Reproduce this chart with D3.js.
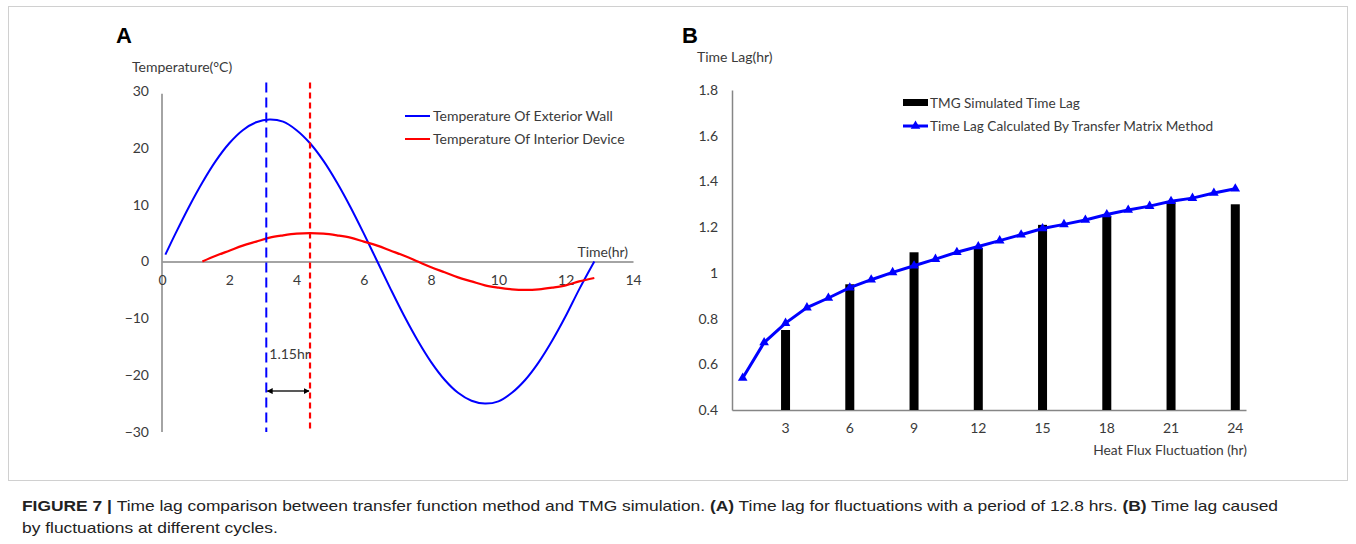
<!DOCTYPE html>
<html>
<head>
<meta charset="utf-8">
<script src="https://cdn.jsdelivr.net/npm/d3@7"></script>
<style>
  body { margin: 0; background: #fff; }
  svg { display: block; }
  .lbl { font-family: Lato, "Liberation Sans", sans-serif; fill: #3a3a3a; }
</style>
</head>
<body>
<svg id="fig" width="1356" height="544"></svg>
<script>
// ─── Panel A data: temperature curves, period 12.8 hr ───
const wallTime = [0.1, 0.4, 0.8, 1.2, 1.6, 2.0, 2.4, 2.8, 3.2, 3.6, 4.0, 4.4, 4.8, 5.2, 5.6, 6.0, 6.4,
                  6.8, 7.2, 7.6, 8.0, 8.4, 8.8, 9.2, 9.6, 10.0, 10.4, 10.8, 11.2, 11.6, 12.0, 12.4, 12.85];
const wallTemp = [1.2, 4.9, 9.6, 13.9, 17.7, 20.8, 23.1, 24.5, 25, 24.6, 23.1, 20.8, 17.7, 13.9, 9.6, 4.9, 0,
                  -4.9, -9.6, -13.9, -17.7, -20.8, -23.1, -24.5, -25, -24.6, -23.1, -20.8, -17.7, -13.9, -9.6, -4.9, 0];
const devTime  = [1.2, 1.6, 2.0, 2.4, 2.8, 3.2, 3.6, 4.0, 4.4, 4.8, 5.2, 5.6, 6.0, 6.4, 6.8, 7.2, 7.6,
                  8.0, 8.4, 8.8, 9.2, 9.6, 10.0, 10.4, 10.8, 11.2, 11.6, 12.0, 12.4, 12.85];
const devTemp  = [0, 1.0, 1.9, 2.8, 3.5, 4.2, 4.6, 4.9, 5.0, 4.9, 4.6, 4.2, 3.5, 2.8, 1.9, 1.0, 0,
                  -1.0, -1.9, -2.8, -3.5, -4.2, -4.6, -4.9, -5.0, -4.9, -4.6, -4.2, -3.5, -2.9];
const peakWall = 3.1, peakDev = 4.4;          // dashed markers
const xTicksA  = [0, 2, 4, 6, 8, 10, 12, 14];
const yTicksA  = [30, 20, 10, 0, -10, -20, -30];

// ─── Panel B data: time lag vs fluctuation period ───
const periods  = [1, 2, 3, 4, 5, 6, 7, 8, 9, 10, 11, 12, 13, 14, 15, 16, 17, 18, 19, 20, 21, 22, 23, 24];
const tmLag    = [0.54, 0.695, 0.78, 0.848, 0.89, 0.935, 0.97, 1.002, 1.031, 1.06, 1.09, 1.115,
                  1.141, 1.167, 1.194, 1.212, 1.231, 1.255, 1.275, 1.292, 1.313, 1.327, 1.349, 1.368];
const tmgPer   = [3, 6, 9, 12, 15, 18, 21, 24];
const tmgLag   = [0.75, 0.95, 1.09, 1.11, 1.21, 1.25, 1.31, 1.30];
const yTicksB  = [0.4, 0.6, 0.8, 1, 1.2, 1.4, 1.6, 1.8];

const svg = d3.select("#fig");
const AX = "#868686";
const FS = 14;

// frame
svg.append("rect").attr("x", 8.5).attr("y", 6.5).attr("width", 1339).attr("height", 474)
    .attr("fill", "none").attr("stroke", "#d0d0d0").attr("stroke-width", 1);

// ════════════════ PANEL A ════════════════
const xA = d3.scaleLinear().domain([0, 14]).range([162, 633]);
const yA = d3.scaleLinear().domain([-30, 30]).range([432, 91]);

svg.append("text").attr("x", 116).attr("y", 43)
    .attr("font-family", "Liberation Sans, Arial, sans-serif").attr("font-weight", 700)
    .attr("font-size", 22).text("A");
svg.append("text").attr("class", "lbl").attr("x", 132).attr("y", 72)
    .attr("font-size", FS).text("Temperature(°C)");

// y axis
const yAxA = svg.append("g").attr("transform", `translate(${xA(0)},0)`)
    .call(d3.axisLeft(yA).tickValues(yTicksA).tickSize(0).tickPadding(13));
yAxA.select(".domain").attr("stroke", AX).attr("stroke-width", 1.5).attr("d", `M0,${yA(29.5)}V${yA(-30)}`);
yAxA.selectAll("text").attr("class", "lbl").attr("font-size", FS);

// x axis at zero
const xAxA = svg.append("g").attr("transform", `translate(0,${yA(0)})`)
    .call(d3.axisBottom(xA).tickValues(xTicksA).tickSize(0).tickPadding(14));
xAxA.select(".domain").attr("stroke", AX).attr("stroke-width", 1.5);
xAxA.selectAll("text").attr("class", "lbl").attr("font-size", FS);

svg.append("text").attr("class", "lbl").attr("x", 628).attr("y", 257)
    .attr("text-anchor", "end").attr("font-size", FS).text("Time(hr)");

// curves
const lineA = d3.line().x(d => xA(d[0])).y(d => yA(d[1])).curve(d3.curveCatmullRom);
svg.append("path").datum(wallTime.map((t, i) => [t, wallTemp[i]]))
    .attr("d", lineA).attr("fill", "none").attr("stroke", "#0000ff").attr("stroke-width", 2);
svg.append("path").datum(devTime.map((t, i) => [t, devTemp[i]]))
    .attr("d", lineA).attr("fill", "none").attr("stroke", "#ff0000").attr("stroke-width", 2.2);

// dashed peak markers
svg.append("line").attr("x1", xA(peakWall)).attr("x2", xA(peakWall))
    .attr("y1", yA(31.5)).attr("y2", yA(-30))
    .attr("stroke", "#0000ff").attr("stroke-width", 2).attr("stroke-dasharray", "10,5");
svg.append("line").attr("x1", xA(peakDev)).attr("x2", xA(peakDev))
    .attr("y1", yA(31.5)).attr("y2", yA(-30))
    .attr("stroke", "#ff0000").attr("stroke-width", 2.2).attr("stroke-dasharray", "6,4");

// double arrow
const defs = svg.append("defs");
defs.append("marker").attr("id", "ah").attr("viewBox", "0 0 10 10").attr("refX", 9).attr("refY", 5)
    .attr("markerWidth", 4).attr("markerHeight", 4).attr("orient", "auto-start-reverse")
    .append("path").attr("d", "M0,0L10,5L0,10z").attr("fill", "#000");
svg.append("line").attr("x1", xA(peakWall) + 1).attr("x2", xA(peakDev) - 1)
    .attr("y1", yA(-22.8)).attr("y2", yA(-22.8))
    .attr("stroke", "#222").attr("stroke-width", 1.5)
    .attr("marker-start", "url(#ah)").attr("marker-end", "url(#ah)");
svg.append("text").attr("class", "lbl").attr("x", xA(peakWall) + 3).attr("y", 359)
    .attr("font-size", FS).text("1.15hr");

// legend A
[["Temperature Of Exterior Wall", "#0000ff", 116], ["Temperature Of Interior Device", "#ff0000", 139]]
    .forEach(([t, c, y]) => {
        svg.append("line").attr("x1", 405).attr("x2", 430).attr("y1", y).attr("y2", y)
            .attr("stroke", c).attr("stroke-width", 2);
        svg.append("text").attr("class", "lbl").attr("x", 433).attr("y", y + 5)
            .attr("font-size", FS).text(t);
    });

// ════════════════ PANEL B ════════════════
const xB = d3.scaleBand().domain(periods).range([732, 1246]);
const yB = d3.scaleLinear().domain([0.4, 1.8]).range([410, 90]);

svg.append("text").attr("x", 682).attr("y", 43)
    .attr("font-family", "Liberation Sans, Arial, sans-serif").attr("font-weight", 700)
    .attr("font-size", 22).text("B");
svg.append("text").attr("class", "lbl").attr("x", 697).attr("y", 62)
    .attr("font-size", FS).text("Time Lag(hr)");

const yAxB = svg.append("g").attr("transform", "translate(732,0)")
    .call(d3.axisLeft(yB).tickValues(yTicksB).tickFormat(d3.format("~g")).tickSize(0).tickPadding(14));
yAxB.select(".domain").attr("stroke", AX).attr("stroke-width", 1.5);
yAxB.selectAll("text").attr("class", "lbl").attr("font-size", FS);

const xAxB = svg.append("g").attr("transform", "translate(0,410)")
    .call(d3.axisBottom(xB).tickValues(tmgPer).tickSize(0).tickPadding(13));
xAxB.select(".domain").attr("stroke", AX).attr("stroke-width", 1.5);
xAxB.selectAll("text").attr("class", "lbl").attr("font-size", FS);

svg.append("text").attr("class", "lbl").attr("x", 1247).attr("y", 455)
    .attr("text-anchor", "end").attr("font-size", 13.8).text("Heat Flux Fluctuation (hr)");

// bars
const bw = 9;
svg.append("g").selectAll("rect").data(tmgPer).join("rect")
    .attr("x", (p) => xB(p) + xB.bandwidth() / 2 - bw / 2)
    .attr("y", (p, i) => yB(tmgLag[i]))
    .attr("width", bw).attr("height", (p, i) => yB(0.4) - yB(tmgLag[i]))
    .attr("fill", "#000");

// transfer matrix line
const cx = p => xB(p) + xB.bandwidth() / 2;
svg.append("path").datum(periods)
    .attr("d", d3.line().x(cx).y((p, i) => yB(tmLag[i])))
    .attr("fill", "none").attr("stroke", "#0000ff").attr("stroke-width", 3);
const tri = d3.symbol(d3.symbolTriangle, 40);
svg.append("g").selectAll("path").data(periods).join("path")
    .attr("transform", (p, i) => `translate(${cx(p)},${yB(tmLag[i])})`)
    .attr("d", tri).attr("fill", "#0000ff");

// legend B
svg.append("rect").attr("x", 903).attr("y", 99).attr("width", 25).attr("height", 7).attr("fill", "#000");
svg.append("text").attr("class", "lbl").attr("x", 930).attr("y", 107.5)
    .attr("font-size", 13.6).text("TMG Simulated Time Lag");
svg.append("line").attr("x1", 903).attr("x2", 928).attr("y1", 126).attr("y2", 126)
    .attr("stroke", "#0000ff").attr("stroke-width", 3);
svg.append("path").attr("transform", "translate(915.5,126)").attr("d", tri).attr("fill", "#0000ff");
svg.append("text").attr("class", "lbl").attr("x", 930).attr("y", 131)
    .attr("font-size", 13.6).text("Time Lag Calculated By Transfer Matrix Method");

// ════════════════ CAPTION ════════════════
const capFont = "Liberation Sans, Arial, sans-serif";
const cap = svg.append("text").attr("x", 22).attr("y", 511)
    .attr("font-family", capFont).attr("font-size", 15).attr("fill", "#222");
cap.append("tspan").attr("font-weight", 700).text("FIGURE 7 | ");
cap.append("tspan").text("Time lag comparison between transfer function method and TMG simulation. ");
cap.append("tspan").attr("font-weight", 700).text("(A)");
cap.append("tspan").text(" Time lag for fluctuations with a period of 12.8 hrs. ");
cap.append("tspan").attr("font-weight", 700).text("(B)");
cap.append("tspan").text(" Time lag caused");
const cap2 = svg.append("text").attr("x", 22).attr("y", 533)
    .attr("font-family", capFont).attr("font-size", 15).attr("fill", "#222")
    .text("by fluctuations at different cycles.");
// squeeze both lines by the same ratio so line 1 ends where the original does
const ratio = 1256 / cap.node().getComputedTextLength();
cap.attr("textLength", 1256).attr("lengthAdjust", "spacingAndGlyphs");
cap2.attr("textLength", cap2.node().getComputedTextLength() * ratio).attr("lengthAdjust", "spacingAndGlyphs");
</script>
</body>
</html>
